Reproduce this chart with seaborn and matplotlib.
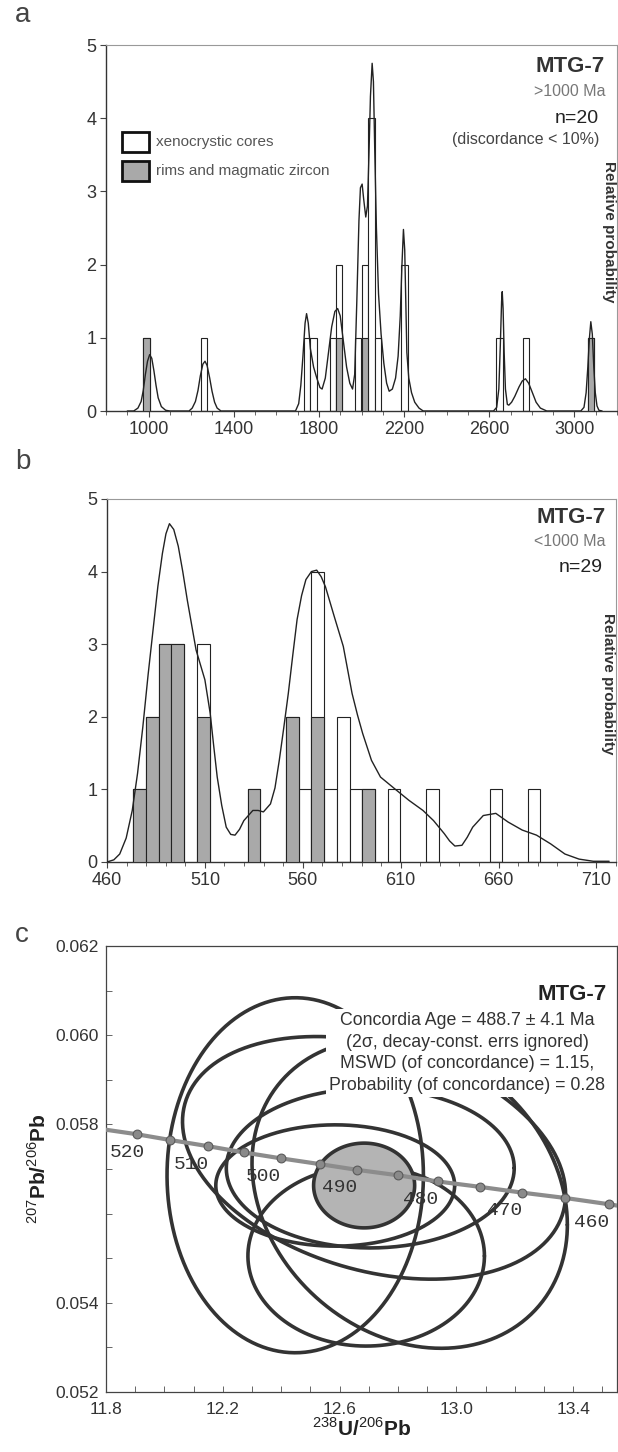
import numpy as np
import seaborn as sns
import matplotlib.pyplot as plt
from matplotlib.ticker import MultipleLocator, FixedLocator
from matplotlib.patches import Rectangle

sns.set_style('ticks')
plt.rcParams['font.family'] = ['Liberation Sans', 'DejaVu Sans']
plt.rcParams['mathtext.fontset'] = 'custom'
plt.rcParams['mathtext.rm'] = 'Liberation Sans'
plt.rcParams['mathtext.bf'] = 'Liberation Sans:bold'

# ---- panel a : >1000 Ma histogram (bin left edge, total count, rim count)
a_bin_left = [975, 1245, 1730, 1760, 1850, 1880, 1970, 2000, 2032, 2062, 2187, 2634, 2758, 3062]
a_total = [1, 1, 1, 1, 1, 2, 1, 2, 4, 1, 2, 1, 1, 1]
a_rims = [1, 0, 0, 0, 0, 1, 0, 1, 0, 0, 0, 0, 0, 1]
a_binw = 30

# relative probability curve
a_pdf_x = [900, 930, 950, 965, 975, 985, 995, 1005, 1015, 1025, 1035, 1045, 1060, 1080, 1100,
           1190, 1205, 1220, 1232, 1243, 1255, 1265, 1275, 1287, 1298, 1310, 1322, 1340,
           1690, 1705, 1715, 1725, 1735, 1742, 1750, 1760, 1775, 1790, 1805, 1815, 1830, 1845,
           1860, 1875, 1888, 1900, 1915, 1930, 1945, 1958, 1968, 1978, 1988, 1995, 2003, 2010,
           2020, 2028, 2035, 2042, 2050, 2056, 2062, 2070, 2080, 2092, 2105, 2118, 2130, 2145,
           2160, 2172, 2182, 2190, 2197, 2203, 2208, 2213, 2222, 2235, 2250, 2270, 2290,
           2620, 2635, 2645, 2652, 2658, 2661, 2665, 2670, 2676, 2685, 2692, 2705, 2720, 2740,
           2755, 2770, 2785, 2800, 2820, 2840, 2870,
           3030, 3045, 3055, 3063, 3070, 3077, 3084, 3091, 3098, 3106, 3115, 3130]
a_pdf_y = [0, 0, 0.04, 0.13, 0.28, 0.50, 0.68, 0.77, 0.72, 0.55, 0.35, 0.18, 0.06, 0.01, 0,
           0, 0.04, 0.13, 0.28, 0.48, 0.64, 0.68, 0.62, 0.45, 0.27, 0.12, 0.04, 0,
           0, 0.10, 0.35, 0.75, 1.20, 1.33, 1.20, 0.85, 0.60, 0.45, 0.32, 0.30, 0.45, 0.80,
           1.15, 1.36, 1.40, 1.30, 0.95, 0.60, 0.38, 0.30, 0.50, 1.50, 2.60, 3.05, 3.10, 2.90,
           2.65, 2.80, 3.50, 4.30, 4.75, 4.50, 3.60, 2.50, 1.60, 1.05, 0.65, 0.38, 0.27, 0.30,
           0.45, 0.75, 1.30, 2.00, 2.48, 2.20, 1.50, 0.80, 0.45, 0.25, 0.12, 0.04, 0,
           0, 0.05, 0.30, 0.90, 1.50, 1.63, 1.40, 0.80, 0.30, 0.09, 0.08, 0.12, 0.20, 0.33,
           0.41, 0.44, 0.38, 0.27, 0.12, 0.04, 0,
           0, 0.05, 0.25, 0.60, 0.98, 1.22, 1.05, 0.60, 0.25, 0.07, 0.01, 0]

# ---- panel b : <1000 Ma histogram
b_bin_left = [473.4, 479.9, 486.4, 492.9, 505.9, 531.9, 551.4, 557.9, 564.4, 570.9, 577.4,
              583.9, 590.4, 603.4, 622.9, 655.4, 674.9]
b_total = [1, 2, 3, 3, 3, 1, 2, 1, 4, 1, 2, 1, 1, 1, 1, 1, 1]
b_rims = [1, 2, 3, 3, 2, 1, 2, 0, 2, 0, 0, 0, 1, 0, 0, 0, 0]
b_binw = 6.5

b_pdf_x = [460, 463.5, 466.5, 469.8, 472.9, 475.6, 478.3, 481.0, 483.7, 486.0, 488.3, 490.1,
           491.9, 494.1, 496.4, 498.7, 501.0, 505.5, 510.0, 512.7, 514.5, 516.3, 518.6, 520.9,
           523.2, 525.4, 527.7, 529.9, 534.5, 537.2, 539.9, 543.5, 545.8, 548.0, 550.3, 552.6,
           554.9, 557.1, 559.4, 561.6, 564.4, 567.1, 569.4, 571.6, 576.1, 580.7, 585.2, 588.0,
           590.6, 595.1, 599.7, 606.9, 614.2, 621.4, 626.8, 632.3, 635.0, 637.7, 641.3, 644.0,
           646.8, 652.2, 658.6, 664.9, 672.1, 679.4, 686.6, 693.9, 701.1, 708.4, 716.5]
b_pdf_y = [0, 0.03, 0.11, 0.33, 0.71, 1.22, 1.86, 2.58, 3.24, 3.80, 4.25, 4.52,
           4.66, 4.58, 4.35, 4.00, 3.61, 2.92, 2.51, 2.05, 1.60, 1.17, 0.78, 0.48,
           0.38, 0.37, 0.45, 0.57, 0.71, 0.71, 0.69, 0.80, 1.02, 1.40, 1.85, 2.32,
           2.85, 3.34, 3.67, 3.89, 4.00, 4.02, 3.93, 3.79, 3.38, 2.97, 2.32, 2.02,
           1.77, 1.40, 1.17, 1.01, 0.85, 0.71, 0.57, 0.39, 0.29, 0.22, 0.23, 0.34,
           0.48, 0.64, 0.67, 0.55, 0.44, 0.37, 0.25, 0.11, 0.04, 0.01, 0.01]

# ---- panel c : Tera-Wasserburg concordia
conc_age = [520, 515, 510, 505, 500, 495, 490, 485, 480, 475, 470, 465, 460]
conc_x = [11.905, 12.020, 12.151, 12.273, 12.398, 12.532, 12.661, 12.799, 12.937, 13.080,
          13.225, 13.373, 13.522]
conc_y = [0.05778, 0.05765, 0.05751, 0.05737, 0.05724, 0.05711, 0.05698, 0.05686, 0.05672,
          0.05660, 0.05647, 0.05635, 0.05621]
conc_line_x = [11.80] + conc_x + [13.55]
conc_line_y = [0.05788] + conc_y + [0.05618]
conc_labelled = [520, 510, 500, 490, 480, 470, 460]

# error ellipses: centre, half extents, correlation
ell_cx = [12.448, 12.840, 12.585, 12.705, 12.691, 12.718]
ell_cy = [0.05686, 0.05644, 0.05663, 0.05702, 0.05505, 0.05725]
ell_sx = [0.439, 0.540, 0.409, 0.493, 0.405, 0.656]
ell_sy = [0.00398, 0.00346, 0.00136, 0.00179, 0.00202, 0.00272]
ell_rho = [0.0, -0.2, 0.0, 0.0, 0.0, -0.30]
mean_ell = (12.684, 0.05663, 0.173, 0.00095, 0.0)

W, H = 618, 1452
fig = plt.figure(figsize=(W / 100, H / 100), dpi=100)


def box(l, t, r, b):
    return [l / W, 1 - b / H, (r - l) / W, (b - t) / H]


ax_a = fig.add_axes(box(106, 45, 617, 411))
ax_b = fig.add_axes(box(107, 499, 616, 862))
ax_c = fig.add_axes(box(106, 946, 617, 1392))

GRAY = '#a9a9a9'
INK = '#222222'


def hist_panel(ax, left, total, rims, w, px, py):
    ax.bar(left, total, width=w, align='edge', facecolor='white', edgecolor=INK, lw=0.8, zorder=2)
    ax.bar(left, rims, width=w, align='edge', facecolor=GRAY, edgecolor=INK, lw=0.8, zorder=3)
    sns.lineplot(x=px, y=py, ax=ax, color=INK, lw=1.0, zorder=4, sort=False)
    ax.set_ylim(0, 5)
    ax.yaxis.set_major_locator(MultipleLocator(1))
    for s in ['left', 'bottom']:
        ax.spines[s].set_color('#333333')
        ax.spines[s].set_linewidth(1.0)
    for s in ['top', 'right']:
        ax.spines[s].set_visible(True)
        ax.spines[s].set_color('#999999')
        ax.spines[s].set_linewidth(0.8)
    ax.tick_params(which='major', direction='out', length=4, width=0.8, color='#444444',
                   labelsize=13, labelcolor='#333333', pad=3)
    ax.tick_params(which='minor', direction='out', length=3, width=0.7, color='#666666')
    ax.set_xlabel('')
    ax.set_ylabel('')
    ax.text(0.984, 0.49, 'Relative probability', transform=ax.transAxes, rotation=270,
            ha='center', va='center', fontsize=11, fontweight='bold', color='#333333')


hist_panel(ax_a, a_bin_left, a_total, a_rims, a_binw, a_pdf_x, a_pdf_y)
ax_a.set_xlim(800, 3200)
ax_a.xaxis.set_major_locator(FixedLocator([1000, 1400, 1800, 2200, 2600, 3000]))
ax_a.xaxis.set_minor_locator(MultipleLocator(100))

ax_a.text(0.977, 0.940, 'MTG-7', transform=ax_a.transAxes, ha='right', va='center',
          fontsize=16, fontweight='bold', color='#333333')
ax_a.text(0.977, 0.874, '>1000 Ma', transform=ax_a.transAxes, ha='right', va='center',
          fontsize=11.5, color='#777777')
ax_a.text(0.965, 0.800, 'n=20', transform=ax_a.transAxes, ha='right', va='center',
          fontsize=14, color='#222222')
ax_a.text(0.965, 0.743, '(discordance < 10%)', transform=ax_a.transAxes, ha='right',
          va='center', fontsize=11.5, color='#444444')
# legend
for yb, fc, lab in [(0.709, 'white', 'xenocrystic cores'),
                    (0.629, GRAY, 'rims and magmatic zircon')]:
    ax_a.add_patch(Rectangle((0.031, yb), 0.053, 0.054, transform=ax_a.transAxes,
                             facecolor=fc, edgecolor='#111111', lw=2.0, zorder=5))
    ax_a.text(0.098, yb + 0.027, lab, transform=ax_a.transAxes, ha='left', va='center',
              fontsize=11, color='#555555')

hist_panel(ax_b, b_bin_left, b_total, b_rims, b_binw, b_pdf_x, b_pdf_y)
ax_b.set_xlim(460, 720)
ax_b.xaxis.set_major_locator(FixedLocator([460, 510, 560, 610, 660, 710]))
ax_b.xaxis.set_minor_locator(MultipleLocator(10))
ax_b.text(0.980, 0.950, 'MTG-7', transform=ax_b.transAxes, ha='right', va='center',
          fontsize=16, fontweight='bold', color='#333333')
ax_b.text(0.980, 0.882, '<1000 Ma', transform=ax_b.transAxes, ha='right', va='center',
          fontsize=11.5, color='#777777')
ax_b.text(0.974, 0.810, 'n=29', transform=ax_b.transAxes, ha='right', va='center',
          fontsize=14, color='#222222')

# ---- panel c
t = np.linspace(0, 2 * np.pi, 300)


def ellipse(cx, cy, sx, sy, rho):
    return cx + sx * np.cos(t), cy + sy * (rho * np.cos(t) + np.sqrt(1 - rho ** 2) * np.sin(t))


for cx, cy, sx, sy, r in zip(ell_cx, ell_cy, ell_sx, ell_sy, ell_rho):
    ex, ey = ellipse(cx, cy, sx, sy, r)
    ax_c.plot(ex, ey, color='#333333', lw=2.6, zorder=2, solid_capstyle='round')
ex, ey = ellipse(*mean_ell)
ax_c.fill(ex, ey, facecolor='#b4b4b4', edgecolor='#333333', lw=2.6, zorder=3)

sns.lineplot(x=conc_line_x, y=conc_line_y, ax=ax_c, color='#8c8c8c', lw=3, zorder=4, sort=False)
sns.scatterplot(x=conc_x, y=conc_y, ax=ax_c, color='#8a8a8a', edgecolor='#5a5a5a',
                s=40, linewidth=0.8, zorder=5)
for age, x, y in zip(conc_age, conc_x, conc_y):
    if age in conc_labelled:
        dx = -6.5 if age == 520 else -12.5
        ax_c.annotate(str(age), (x, y), xytext=(dx, -13), textcoords='offset points',
                      ha='center', va='center', fontsize=14, color='#333333',
                      family='Liberation Mono', zorder=6)

ax_c.set_xlim(11.8, 13.55)
ax_c.set_ylim(0.052, 0.062)
ax_c.xaxis.set_major_locator(FixedLocator([11.8, 12.2, 12.6, 13.0, 13.4]))
ax_c.xaxis.set_minor_locator(MultipleLocator(0.1))
ax_c.yaxis.set_major_locator(FixedLocator([0.052, 0.054, 0.058, 0.060, 0.062]))
ax_c.yaxis.set_minor_locator(MultipleLocator(0.001))
ax_c.xaxis.set_major_formatter(plt.FuncFormatter(lambda v, p: f'{v:.1f}'))
ax_c.yaxis.set_major_formatter(plt.FuncFormatter(lambda v, p: f'{v:.3f}'))
for s in ax_c.spines.values():
    s.set_visible(True)
    s.set_color('#444444')
    s.set_linewidth(0.9)
ax_c.tick_params(which='both', direction='in', length=4, width=0.7, color='#666666',
                 labelsize=12.5, labelcolor='#333333')
ax_c.tick_params(axis='x', pad=7)
ax_c.tick_params(axis='y', pad=5)
ax_c.set_xlabel('$^{238}$U/$^{206}$Pb', fontsize=15, fontweight='bold', color='#222222',
                labelpad=0)
ax_c.set_ylabel('$^{207}$Pb/$^{206}$Pb', fontsize=15, fontweight='bold', color='#222222',
                labelpad=4)

ax_c.text(0.980, 0.892, 'MTG-7', transform=ax_c.transAxes, ha='right', va='center',
          fontsize=16, fontweight='bold', color='#222222', zorder=8)
ax_c.text(0.7065, 0.760,
          'Concordia Age = 488.7 ± 4.1 Ma\n(2σ, decay-const. errs ignored)\n'
          'MSWD (of concordance) = 1.15,\nProbability (of concordance) = 0.28',
          transform=ax_c.transAxes, ha='center', va='center', fontsize=12.8,
          color='#333333', linespacing=1.35, zorder=7,
          bbox=dict(facecolor='white', edgecolor='none', pad=2))

for lab, y in [('a', 15), ('b', 462), ('c', 935)]:
    fig.text(15 / W, 1 - y / H, lab, fontsize=20, color='#444444', ha='left', va='center')

fig.savefig('out.png', dpi=100)
